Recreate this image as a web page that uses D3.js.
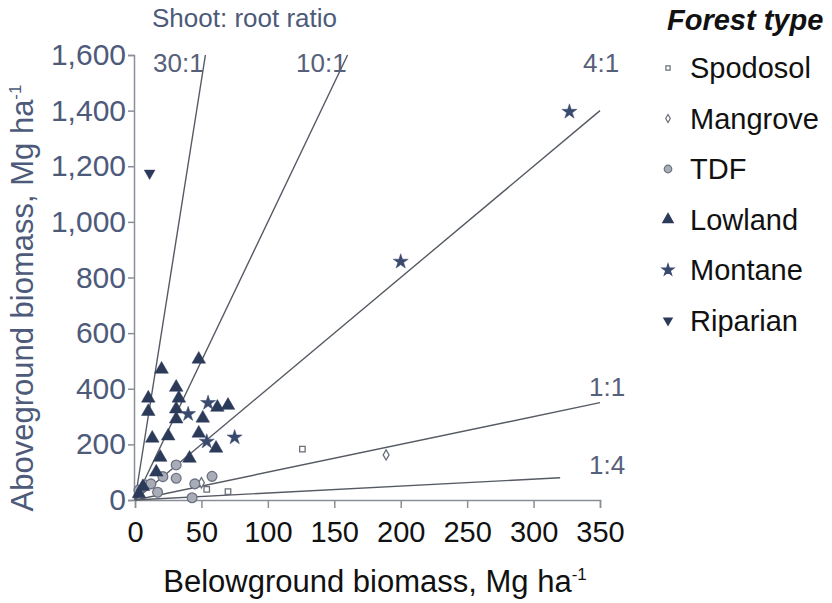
<!DOCTYPE html>
<html>
<head>
<meta charset="utf-8">
<script src="https://cdn.jsdelivr.net/npm/d3@7"></script>
<style>
  body { margin: 0; background: #fff; }
  text { font-family: "Liberation Sans", Arial, sans-serif; }
</style>
</head>
<body>
<div id="vis"></div>
<script>
// SVG geometry
var width = 832;
var height = 603;

// data (belowground, aboveground), Mg/ha
var spodosol = [[54, 38], [70, 30], [126, 183]];
var mangrove = [[50, 62], [189, 162]];
var tdf = [[3, 36], [8, 54], [12, 58], [17, 28], [21, 84], [31, 126], [31, 78],
  [43, 8], [45, 58], [58, 85]];
var lowland = [[3, 22], [6, 48], [10, 366], [10, 318], [13, 222], [16, 100],
  [19, 153], [20, 470], [25, 230], [31, 405], [31, 327], [31, 291], [33, 366],
  [41, 150], [48, 506], [48, 240], [51, 294], [61, 186], [62, 333], [70, 340]];
var montane = [[40, 309], [54, 210], [55, 349], [75, 225], [200, 857], [327, 1396]];
var riparian = [[11, 1175]];

// ratio lines: label, end point
var ratioNames = ["30:1", "10:1", "4:1", "1:1", "1:4"];
var ratioEnds = [[53, 1600], [160, 1600], [350, 1400], [350, 350], [320, 80]];

var legendNames = ["Spodosol", "Mangrove", "TDF", "Lowland", "Montane", "Riparian"];
var xTicks = [0, 50, 100, 150, 200, 250, 300, 350];
var yTicks = [0, 200, 400, 600, 800, 1000, 1200, 1400, 1600];

var svg = d3.select('#vis')
  .append("svg")
  .attr('width', width)
  .attr('height', height);

var x = d3.scaleLinear().domain([0, 350]).range([135, 600]);
var y = d3.scaleLinear().domain([0, 1600]).range([500, 55]);

var axisGrey = "#8a8e98";
var blueGrey = "#4d5a7a";
var navy = "#2c3a5a";

// axes
var xAxis = svg.append("g")
  .attr("transform", "translate(0," + y(0) + ")")
  .call(d3.axisBottom(x).tickValues(xTicks).tickSize(8).tickSizeOuter(8).tickPadding(13));
xAxis.selectAll("path, line").attr("stroke", axisGrey).attr("stroke-width", 1.5);
xAxis.selectAll("text").attr("font-size", 29).attr("fill", "#111")
  .attr("font-family", "Liberation Sans, Arial, sans-serif");

var yAxis = svg.append("g")
  .attr("transform", "translate(" + (x(0) - 1) + ",0)")
  .call(d3.axisLeft(y).tickValues(yTicks).tickFormat(d3.format(",")).tickSize(6).tickPadding(2));
yAxis.selectAll("path, line").attr("stroke", axisGrey).attr("stroke-width", 1.5);
yAxis.selectAll("text").attr("font-size", 30).attr("fill", blueGrey)
  .attr("font-family", "Liberation Sans, Arial, sans-serif");

// axis titles
svg.append("text")
  .attr("x", 375).attr("y", 592)
  .attr("text-anchor", "middle")
  .attr("font-size", 31).attr("fill", "#111")
  .html('Belowground biomass, Mg ha<tspan dy="-12" font-size="17">-1</tspan>');

svg.append("text")
  .attr("transform", "translate(33,298) rotate(-90)")
  .attr("text-anchor", "middle")
  .attr("font-size", 31).attr("fill", blueGrey)
  .html('Aboveground biomass, Mg ha<tspan dy="-12" font-size="17">-1</tspan>');

// ratio lines
svg.selectAll(".ratio")
  .data(ratioEnds)
  .enter().append("line")
  .attr("class", "ratio")
  .attr("x1", x(0)).attr("y1", y(0))
  .attr("x2", function(d) { return x(d[0]); })
  .attr("y2", function(d) { return y(d[1]); })
  .attr("stroke", "#555a63")
  .attr("stroke-width", 1.4);

var labelPos = [[153, 72], [296, 72], [583, 72], [589, 396], [589, 474]];
svg.selectAll(".rlab")
  .data(ratioNames)
  .enter().append("text")
  .attr("class", "rlab")
  .attr("x", function(d, i) { return labelPos[i][0]; })
  .attr("y", function(d, i) { return labelPos[i][1]; })
  .attr("font-size", 26).attr("fill", "#56607a")
  .text(function(d) { return d; });

svg.append("text")
  .attr("x", 152).attr("y", 27)
  .attr("font-size", 26).attr("fill", blueGrey)
  .text("Shoot: root ratio");

// points
var sym = d3.symbol();
var styles = [
  [d3.symbolSquare, 30, "#fff", "#6a6f7a", 1.3, 0],
  [d3.symbolDiamond, 30, "#fff", "#6a6f7a", 1.3, 0],
  [d3.symbolCircle, 75, "#a9adb8", "#6c7282", 1.3, 0],
  [d3.symbolTriangle, 80, navy, navy, 0.5, 0],
  [d3.symbolStar, 70, "#3a4a6e", "#3a4a6e", 0.5, 0],
  [d3.symbolTriangle, 50, navy, navy, 0.5, 180]
];
var sets = [spodosol, mangrove, tdf, lowland, montane, riparian];
sets.forEach(function(s, i) {
  var st = styles[i];
  svg.append("g").selectAll("path")
    .data(s)
    .enter().append("path")
    .attr("transform", function(d) {
      return "translate(" + x(d[0]) + "," + y(d[1]) + ") rotate(" + st[5] + ")";
    })
    .attr("d", sym.type(st[0]).size(st[1])())
    .attr("fill", st[2])
    .attr("stroke", st[3])
    .attr("stroke-width", st[4]);
});

// legend
svg.append("text")
  .attr("x", 667).attr("y", 30)
  .attr("font-size", 29).attr("font-weight", "bold").attr("font-style", "italic")
  .attr("fill", "#111")
  .text("Forest type");

var leg = svg.append("g").selectAll("g")
  .data(legendNames)
  .enter().append("g")
  .attr("transform", function(d, i) { return "translate(668," + (68 + i * 50.5) + ")"; });

leg.append("path")
  .attr("d", function(d, i) { return sym.type(styles[i][0]).size(styles[i][1] * 0.6)(); })
  .attr("transform", function(d, i) { return "rotate(" + styles[i][5] + ")"; })
  .attr("fill", function(d, i) { return styles[i][2]; })
  .attr("stroke", function(d, i) { return styles[i][3]; })
  .attr("stroke-width", 1.2);

leg.append("text")
  .attr("x", 22).attr("y", 10)
  .attr("font-size", 29).attr("fill", "#111")
  .text(function(d) { return d; });
</script>
</body>
</html>
